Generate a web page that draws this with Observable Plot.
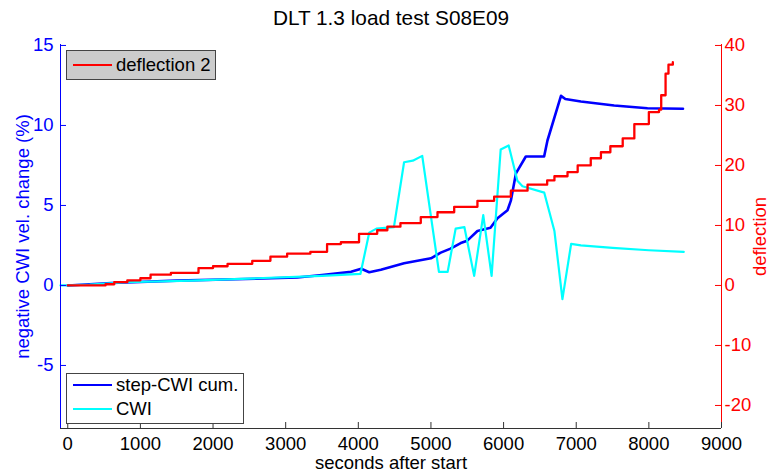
<!DOCTYPE html>
<html>
<head>
<meta charset="utf-8">
<script src="https://cdn.jsdelivr.net/npm/d3@7"></script>
<script src="https://cdn.jsdelivr.net/npm/@observablehq/plot@0.6"></script>
<style>
  html, body { margin: 0; padding: 0; background: #fff; }
  #chart svg { display: block; }
</style>
</head>
<body>
<div id="chart"></div>
<script>
// ---- data ----
const stepTime  = [0, 600, 1500, 2450, 3160, 3500, 3900, 4040, 4150, 4310, 4630, 5000, 5135, 5270, 5410, 5500, 5640, 5820, 5916, 6054, 6100, 6170, 6306, 6558, 6604, 6790, 6850, 7064, 7522, 7981, 8470];
const stepValue = [0, 0.15, 0.3, 0.4, 0.5, 0.65, 0.85, 1.04, 0.83, 0.98, 1.39, 1.7, 2.05, 2.3, 2.65, 2.8, 3.4, 3.6, 4.2, 4.7, 5.3, 7.0, 8.06, 8.06, 9.06, 11.85, 11.65, 11.5, 11.25, 11.08, 11.04];

const cwiTime  = [-100, 0, 300, 800, 1700, 2600, 3500, 4030, 4150, 4250, 4490, 4630, 4750, 4880, 5110, 5230, 5340, 5460, 5595, 5720, 5835, 5960, 6070, 6190, 6260, 6560, 6700, 6810, 6930, 7064, 7500, 8000, 8480];
const cwiValue = [0, 0, 0.05, 0.2, 0.3, 0.45, 0.6, 0.73, 3.3, 3.55, 3.65, 7.7, 7.8, 8.1, 0.85, 0.85, 3.55, 3.65, 0.6, 4.4, 0.6, 8.5, 8.75, 6.55, 6.2, 5.8, 3.4, -0.85, 2.6, 2.5, 2.35, 2.2, 2.1];

const deflTime  = [0, 520, 640, 820, 1000, 1140, 1420, 1800, 2000, 2200, 2540, 2790, 3020, 3340, 3570, 3760, 4010, 4260, 4400, 4580, 4860, 5090, 5320, 5640, 5870, 6100, 6330, 6600, 6700, 6880, 7020, 7200, 7340, 7470, 7640, 7800, 8000, 8140, 8170, 8230, 8270, 8330];
const deflValue = [0, 0.2, 0.55, 0.85, 1.2, 1.8, 2.1, 2.9, 3.2, 3.6, 4.1, 4.8, 5.3, 5.6, 6.9, 7.2, 8.6, 9.2, 9.8, 10.4, 11.4, 12.2, 13.1, 14.1, 14.8, 15.8, 16.8, 17.5, 18.2, 18.9, 20.0, 21.2, 22.2, 23.2, 24.5, 26.9, 28.9, 29.3, 31.7, 35.3, 36.8, 37.2];

const xTicks     = [0, 1000, 2000, 3000, 4000, 5000, 6000, 7000, 8000, 9000];
const leftTicks  = [-5, 0, 5, 10, 15];
const rightTicks = [-20, -10, 0, 10, 20, 30, 40];

const xDomain     = [-100, 9000];
const leftDomain  = [-8.94, 15.06];
const rightDomain = [-23.84, 40.16];
const k = (leftDomain[1] - leftDomain[0]) / (rightDomain[1] - rightDomain[0]); // right -> left units

const step = stepTime.map((t, i) => ({t, v: stepValue[i]}));
const cwi  = cwiTime.map((t, i) => ({t, v: cwiValue[i]}));
const defl = deflTime.map((t, i) => ({t, v: deflValue[i] * k}));

const FONT = '"Liberation Sans", Arial, Helvetica, sans-serif';
const FS = 18.5;
const W = 770, H = 472, ML = 60, MR = 49, MT = 44, MB = 44;
const fw = W - ML - MR, fh = H - MT - MB;
const fmt = d => String(d);

const plot = Plot.plot({
  width: W, height: H,
  marginLeft: ML, marginRight: MR, marginTop: MT, marginBottom: MB,
  style: {fontFamily: FONT, fontSize: FS + "px", background: "#fff", overflow: "visible"},
  x: {domain: xDomain},
  y: {domain: leftDomain},
  marks: [
    // data
    Plot.line(step, {x: "t", y: "v", stroke: "#0000ff", strokeWidth: 2.6}),
    Plot.line(cwi, {x: "t", y: "v", stroke: "#00ffff", strokeWidth: 2.2}),
    Plot.line(defl, {x: "t", y: "v", stroke: "#ff0000", strokeWidth: 2.3, curve: "step-after"}),
    // axis lines
    Plot.ruleY([leftDomain[0]], {stroke: "#333"}),
    Plot.ruleX([xDomain[0]], {stroke: "#0000ff"}),
    Plot.ruleX([xDomain[1]], {stroke: "#ff0000"}),
    // inward ticks
    Plot.tickY(leftTicks, {y: d => d, stroke: "#0000ff", insetRight: fw - 6}),
    Plot.tickY(rightTicks, {y: d => d * k, stroke: "#ff0000", insetLeft: fw - 6}),
    Plot.tickX(xTicks, {x: d => d, stroke: "#333", insetTop: fh - 6}),
    // tick labels
    Plot.axisX({ticks: xTicks, tickSize: 0, tickPadding: 8, tickFormat: fmt, color: "#000", label: null}),
    Plot.axisY({ticks: leftTicks, tickSize: 0, tickPadding: 7, tickFormat: fmt, color: "#0000ff", label: null}),
    Plot.axisY({anchor: "right", ticks: rightTicks.map(v => v * k), tickSize: 0, tickPadding: 3,
                tickFormat: d => fmt(Math.round(d / k)), color: "#ff0000", label: null}),
    // titles
    Plot.text(["DLT 1.3 load test S08E09"], {frameAnchor: "top", lineAnchor: "middle", textAnchor: "middle", dy: -26, fontSize: 20.8, fill: "#000"}),
    Plot.text(["seconds after start"], {frameAnchor: "bottom", lineAnchor: "middle", textAnchor: "middle", dy: 35, fontSize: FS, fill: "#000"}),
    Plot.text(["negative CWI vel. change (%)"], {frameAnchor: "left", lineAnchor: "middle", textAnchor: "middle", dx: -37, rotate: -90, fontSize: FS, fill: "#0000ff"}),
    Plot.text(["deflection"], {frameAnchor: "right", lineAnchor: "middle", textAnchor: "middle", dx: 39, rotate: -90, fontSize: FS, fill: "#ff0000"})
  ]
});

// ---- legends ----
const svg = d3.select(plot);
function legend(x, y, w, h, fill, items) {
  const g = svg.append("g").attr("font-family", FONT).attr("font-size", FS).attr("text-anchor", "start");
  g.append("rect").attr("x", x + 0.5).attr("y", y + 0.5).attr("width", w).attr("height", h)
    .attr("fill", fill).attr("stroke", "#444").attr("stroke-width", 1);
  items.forEach((it) => {
    const cy = y + it.dy;
    g.append("line").attr("x1", x + 7).attr("x2", x + 46).attr("y1", cy).attr("y2", cy)
      .attr("stroke", it.color).attr("stroke-width", 2);
    g.append("text").attr("x", x + 50).attr("y", cy).attr("dy", "0.35em")
      .attr("text-anchor", "start").attr("fill", "#000").text(it.label);
  });
}
legend(66, 50, 149, 29, "#cccccc", [{label: "deflection 2", color: "#ff0000", dy: 15}]);
legend(66, 373, 177, 50, "#ffffff", [
  {label: "step-CWI cum.", color: "#0000ff", dy: 12},
  {label: "CWI", color: "#00ffff", dy: 36}
]);

document.getElementById("chart").appendChild(plot);
</script>
</body>
</html>
